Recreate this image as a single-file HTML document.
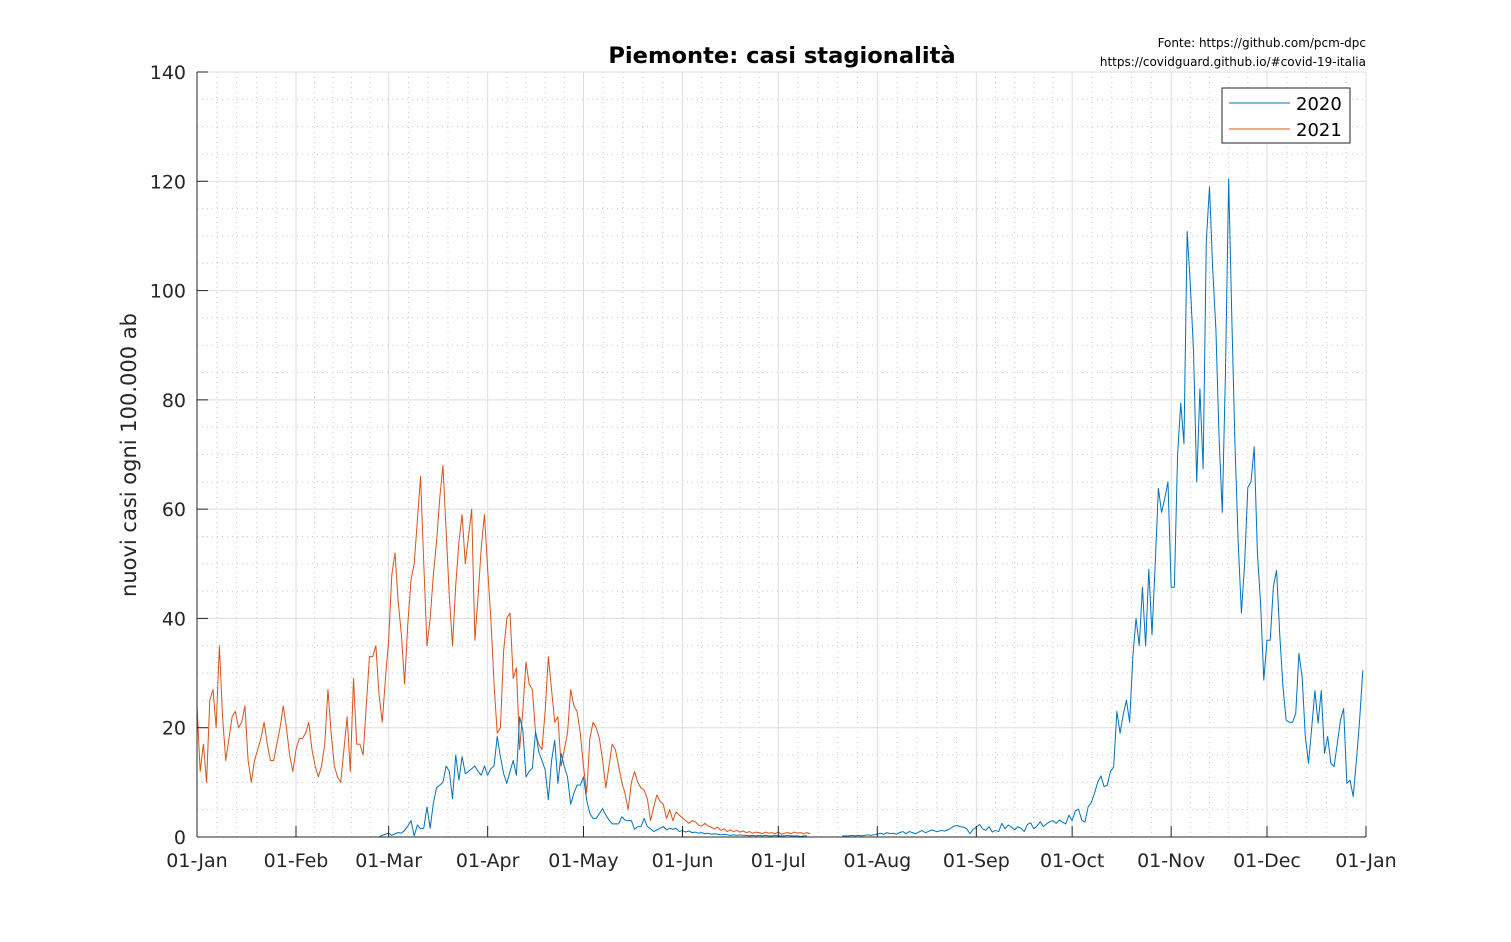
<!DOCTYPE html>
<html><head><meta charset="utf-8">
<style>
html,body{margin:0;padding:0;background:#fff;}
svg{display:block;font-family:"DejaVu Sans","Liberation Sans",sans-serif;}
</style></head>
<body>
<svg id="chart" width="1511" height="942" viewBox="0 0 1511 942" xmlns="http://www.w3.org/2000/svg">
<rect x="0" y="0" width="1511" height="942" fill="#fff"/>
<g id="grid"></g>
<g id="series"></g>
<g id="axes"></g>
<text x="782" y="63" text-anchor="middle" font-size="22.6" font-weight="bold" fill="#000">Piemonte: casi stagionalità</text>
<text x="1366" y="47" text-anchor="end" font-size="12" fill="#000">Fonte: https://github.com/pcm-dpc</text>
<text x="1366" y="66" text-anchor="end" font-size="12" fill="#000">https://covidguard.github.io/#covid-19-italia</text>
<text transform="translate(136,455) rotate(-90)" text-anchor="middle" font-size="21" fill="#262626">nuovi casi ogni 100.000 ab</text>
<g>
<rect x="1222" y="88" width="128" height="55" fill="#fff" stroke="#262626" stroke-width="1"/>
<line x1="1229" y1="103" x2="1290" y2="103" stroke="#0072BD" stroke-width="1"/>
<text x="1296" y="110" font-size="18" fill="#000">2020</text>
<line x1="1229" y1="129" x2="1290" y2="129" stroke="#D95319" stroke-width="1"/>
<text x="1296" y="136" font-size="18" fill="#000">2021</text>
</g>
</svg>
<script>
const monthStarts = [0,31,60,91,121,152,182,213,244,274,305,335,366];
const monthLabels = ["01-Jan","01-Feb","01-Mar","01-Apr","01-May","01-Jun","01-Jul","01-Aug","01-Sep","01-Oct","01-Nov","01-Dec","01-Jan"];
const yTicks = [0,20,40,60,80,100,120,140];
const series2021Start = 0;
const series2021 = [
24,12,17,10,25,27,20,35,22,14,
18,22,23,20,21,24,14,10,14,16,
18,21,17,14,14,17,20,24,20,15,
12,16,18,18,19,21,16,13,11,13,
17,27,19,13,11,10,16,22,12,29,
17,17,15,24,33,33,35,26,21,29,
36,48,52,43,37,28,39,47,50,58,
66,50,35,40,48,54,62,68,56,44,
35,46,54,59,50,55,60,36,44,53,
59,49,40,28,19,20,34,40,41,29,
31,16,23,32,28,27,19,17,16,23,
33,27,21,22,13,16,19,27,24,23,
19,13,8,18,21,20,18,14,9,13,
17,16,13,10,8,5,10,12,10,9,
8.6,7,3,5.5,7.7,6.5,6,3.4,5,3,
4.6,4,3.5,3,2.5,3,2.8,2.2,2,2.5,
2,1.8,1.5,1.8,1.2,1.5,1.0,1.3,1.0,1.2,
0.9,1.1,0.8,1.0,0.7,0.9,0.8,0.6,0.9,0.7,
0.8,0.6,0.9,0.5,0.7,0.8,0.6,0.9,0.7,0.8,
0.6,0.8,0.6];
const series2020aStart = 57;
const series2020a = [
0,0.3,0.5,0.7,0.3,0.6,0.8,0.7,1.2,2.0,
3,0.2,2.2,1.5,1.6,5.5,1.6,6.2,9,9.5,
10,13,12,7,15,10.4,14.7,11.6,12,12.5,
13,12,11.3,13,11.3,12.5,13,18.4,14.7,11.6,
9.8,12,14,11.3,22,19.6,11,12,12.6,19.3,
15.6,14,12.3,6.8,14,17.7,9.8,15.3,12.9,11,
6,8,9.5,9.5,11,6.8,4.3,3.4,3.4,4.3,
5.2,4,3.1,2.4,2.4,2.4,3.7,3.1,3,3,
1.4,1.9,1.9,3.4,1.9,1.5,1,1.3,1.6,1.9,
1.3,1.6,1.4,1.6,1,1.2,0.9,1.1,0.8,0.9,
0.7,0.8,0.6,0.7,0.5,0.6,0.5,0.4,0.5,0.4,
0.3,0.4,0.3,0.4,0.3,0.3,0.2,0.3,0.2,0.3,
0.2,0.3,0.2,0.2,0.3,0.2,0.2,0.2,0.3,0.2,
0.2,0.2,0.1,0.2,0.2];
const series2020bStart = 202;
const series2020b = [
0.2,0.2,0.2,0.3,0.2,0.3,0.2,0.3,0.4,0.3,
0.4,0.5,0.7,0.5,0.8,0.6,0.7,0.5,0.8,1,
0.6,1,0.8,0.6,0.9,1.2,0.8,1,1.3,1.1,
1.0,1.2,1.1,1.3,1.6,2,2.1,1.9,1.8,1.5,
0.6,1.4,1.8,2.3,1.5,1.2,1.9,0.9,1.2,1.0,
2.5,1.5,2.2,1.8,1.3,1.9,1.6,1.0,2.3,2.6,
1.5,2.0,2.8,1.9,2.4,2.8,3,2.5,3.1,2.7,
2.4,4,3,4.8,5.1,3.1,2.7,5.5,6.3,8,
10,11.2,9.2,9.5,12,12.8,23,19,22.4,25,
21,33,40,35,45.7,35,49,37,50,63.8,
59.4,62,65,45.7,45.7,69.8,79.4,72,110.8,101,
89,65,82,67.4,109,119,104,93,73,59.4,
85,120.4,94.7,71.4,53.7,41,50,64,65,71.4,
52,42.7,28.7,36,36,45.8,48.8,37,27.5,21.4,
21,21,22.6,33.6,29.3,18.4,13.5,20,26.8,20.8,
26.8,15.3,18.4,13.5,12.9,17,21.4,23.5,9.8,10.4,
7.4,14,21.4,30.5];

const NS = "http://www.w3.org/2000/svg";
const X0 = 197, X1 = 1366, Y0 = 837, Y1 = 72;
const DAYS = 366, YMAX = 140;
function xs(d){ return X0 + d*(X1-X0)/DAYS; }
function ys(v){ return Y0 - v*(Y0-Y1)/YMAX; }
function mk(tag, attrs, parent){
  const el = document.createElementNS(NS, tag);
  for (const k in attrs) el.setAttribute(k, attrs[k]);
  parent.appendChild(el);
  return el;
}
const grid = document.getElementById('grid');
const axes = document.getElementById('axes');
const series = document.getElementById('series');

for (let v = 5; v < YMAX; v += 5) {
  if (v % 20 === 0) continue;
  const l = mk('line', {x1:X0, x2:X1, y1:ys(v), y2:ys(v), stroke:'#c8c8c8', 'stroke-width':1, 'stroke-dasharray':'1,4'}, grid);
  
  
}
for (let m = 0; m < monthStarts.length-1; m++) {
  const a = monthStarts[m], b = monthStarts[m+1];
  for (let k = 1; k < 5; k++) {
    const x = xs(a + (b-a)*k/5);
    const l = mk('line', {x1:x, x2:x, y1:Y1, y2:Y0, stroke:'#c8c8c8', 'stroke-width':1, 'stroke-dasharray':'1,4'}, grid);
    
    
  }
}
yTicks.forEach(v => {
  const y = ys(v);
  const l = mk('line', {x1:X0, x2:X1, y1:y, y2:y, stroke:'#dedede', 'stroke-width':1}, grid);
  
  
  const t = mk('line', {x1:X0, x2:X0+11, y1:y, y2:y, stroke:'#262626', 'stroke-width':1}, axes);
  
  
  const tx = mk('text', {x:X0-11, y:y+7, 'text-anchor':'end', 'font-size':19, fill:'#262626'}, axes);
  tx.textContent = v;
  
  
});
monthStarts.forEach((d, i) => {
  const x = xs(d);
  const l = mk('line', {x1:x, x2:x, y1:Y1, y2:Y0, stroke:'#dedede', 'stroke-width':1}, grid);
  
  
  const t = mk('line', {x1:x, x2:x, y1:Y0, y2:Y0-11, stroke:'#262626', 'stroke-width':1}, axes);
  
  
  const tx = mk('text', {x:x, y:867, 'text-anchor':'middle', 'font-size':19, fill:'#262626'}, axes);
  tx.textContent = monthLabels[i];
  
  
});
const yAxis = mk('line', {x1:X0, x2:X0, y1:Y1, y2:Y0, stroke:'#262626', 'stroke-width':1}, axes);


const xAxis = mk('line', {x1:X0, x2:X1, y1:Y0, y2:Y0, stroke:'#262626', 'stroke-width':1}, axes);



function drawLine(arr, start, color, name){
  const pts = arr.map((v,i) => xs(start+i).toFixed(2)+','+ys(v).toFixed(2)).join(' ');
  const p = mk('polyline', {points:pts, fill:'none', stroke:color, 'stroke-width':1, 'stroke-linejoin':'round'}, series);
  
  
}
drawLine(series2021, series2021Start, '#D95319', 'line-2021');
drawLine(series2020a, series2020aStart, '#0072BD', 'line-2020-spring');
drawLine(series2020b, series2020bStart, '#0072BD', 'line-2020-autumn');
</script>
</body></html>
